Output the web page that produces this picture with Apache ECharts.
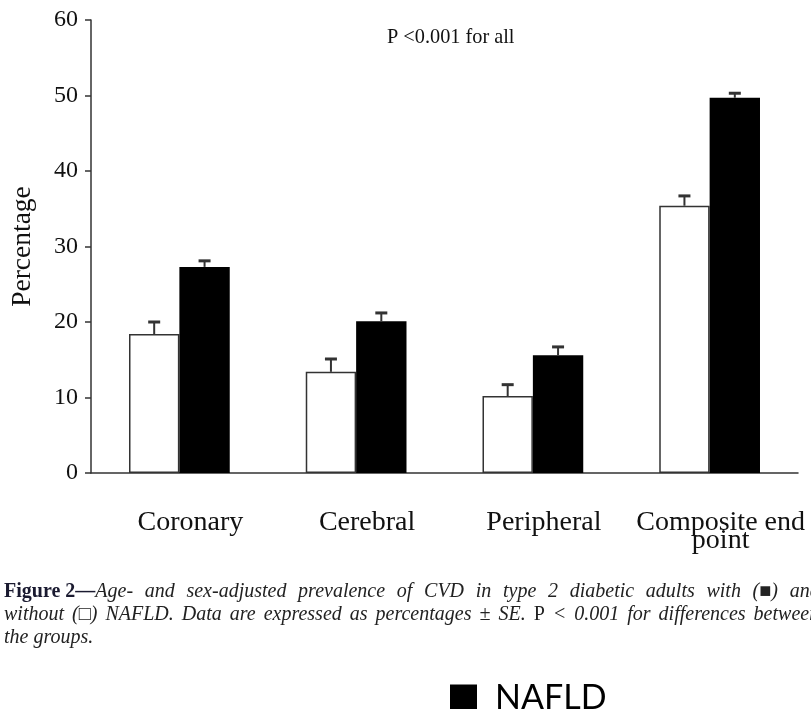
<!DOCTYPE html>
<html><head><meta charset="utf-8">
<script src="https://cdn.jsdelivr.net/npm/echarts@6/dist/echarts.min.js"></script>
<style>html,body{margin:0;padding:0;background:#fff}#c{width:811px;height:709px}</style>
</head><body><div id="c"></div>
<script>
const categories = ['Coronary', 'Cerebral', 'Peripheral', 'Composite end\npoint'];
const withoutNAFLD = [18.4, 13.4, 10.2, 35.4];
const withoutSE = [1.6, 1.7, 1.5, 1.3];
const withNAFLD = [27.3, 20.1, 15.6, 49.7];
const withSE = [0.8, 1.1, 1.1, 0.6];
const yTicks = [0, 10, 20, 30, 40, 50, 60];
const captionLine1 = ['Age-', 'and', 'sex-adjusted', 'prevalence', 'of', 'CVD', 'in', 'type', '2', 'diabetic', 'adults', 'with', '(■)', 'and'];
const captionLine2 = ['without', '(□)', 'NAFLD.', 'Data', 'are', 'expressed', 'as', 'percentages', '±', 'SE.', '{n|P}', '<', '0.001', 'for', 'differences', 'between'];

const serif = '"Liberation Serif", "DejaVu Serif", serif';
const GAP = 0.43;

function errSeries(name, vals, ses, side) {
  return {
    type: 'custom', name: name + ' SE', z: 3,
    data: vals.map((v, i) => [i, v, v + ses[i]]),
    renderItem: function (params, api) {
      const band = api.size([1, 0])[0];
      const off = side * band * (1 - GAP) / 4;
      const p0 = api.coord([api.value(0), api.value(1)]);
      const p1 = api.coord([api.value(0), api.value(2)]);
      const x = p0[0] + off;
      return { type: 'group', children: [
        { type: 'line', shape: { x1: x, y1: p0[1], x2: x, y2: p1[1] }, style: { stroke: '#333', lineWidth: 2 } },
        { type: 'line', shape: { x1: x - 6, y1: p1[1], x2: x + 6, y2: p1[1] }, style: { stroke: '#333', lineWidth: 3 } }
      ]};
    }
  };
}

function justify(words, style) {
  return words.map(w => w.startsWith('{') ? w : '{' + style + '|' + w + '}').join('{sp| }');
}

const capFont = '20px ' + serif;
const chart = echarts.init(document.getElementById('c'));
chart.setOption({
  animation: false,
  grid: { left: 91, right: 13, top: 20, bottom: 236 },
  legend: {
    data: ['NAFLD'], left: 450, top: 681, padding: 0, icon: 'rect', itemWidth: 27, itemHeight: 27,
    textStyle: { fontFamily: 'Lato, "Noto Sans", sans-serif', fontSize: 34, lineHeight: 27, color: '#000', padding: [0, 0, 0, 13] }
  },
  xAxis: {
    type: 'category', data: categories,
    axisLine: { lineStyle: { color: '#333', width: 1.5 } },
    axisTick: { show: false },
    axisLabel: { interval: 0, hideOverlap: false, fontFamily: serif, fontSize: 28, color: '#111', margin: 41, lineHeight: 18, padding: [0, 0, 0, 22] }
  },
  yAxis: {
    type: 'value', min: yTicks[0], max: yTicks[yTicks.length - 1], interval: 10,
    name: 'Percentage', nameLocation: 'middle', nameGap: 54, nameRotate: 90,
    nameTextStyle: { fontFamily: serif, fontSize: 27.5, color: '#111' },
    axisLine: { show: true, lineStyle: { color: '#333', width: 1.5 } },
    axisTick: { show: true, length: 6, lineStyle: { color: '#333', width: 1.5 } },
    axisLabel: { fontFamily: serif, fontSize: 24, color: '#111', margin: 13 },
    splitLine: { show: false }
  },
  series: [
    { name: 'Non-NAFLD', type: 'bar', data: withoutNAFLD, barGap: '0%', barCategoryGap: (GAP * 100) + '%',
      itemStyle: { color: '#fff', borderColor: '#333', borderWidth: 1.5 } },
    { name: 'NAFLD', type: 'bar', data: withNAFLD, barGap: '0%', barCategoryGap: (GAP * 100) + '%',
      itemStyle: { color: '#000' } },
    errSeries('Non-NAFLD', withoutNAFLD, withoutSE, -1),
    errSeries('NAFLD', withNAFLD, withSE, 1)
  ],
  graphic: [
    { type: 'text', left: 387, top: 28, style: { text: 'P <0.001 for all', font: '20.3px ' + serif, fill: '#111' } },
    { type: 'text', left: 4, top: 582, style: {
      text: '{b|Figure 2—}' + justify(captionLine1, 'i'),
      rich: { b: { font: 'bold 20px ' + serif, fill: '#1a1a30' }, i: { font: 'italic ' + capFont, fill: '#222' }, sp: { font: capFont, width: 11.7 } } } },
    { type: 'text', left: 4, top: 605, style: {
      text: justify(captionLine2, 'i'),
      rich: { n: { font: capFont, fill: '#222' }, i: { font: 'italic ' + capFont, fill: '#222' }, sp: { font: capFont, width: 8 } } } },
    { type: 'text', left: 4, top: 628, style: { text: 'the groups.', font: 'italic ' + capFont, fill: '#222' } }
  ]
});
</script></body></html>
